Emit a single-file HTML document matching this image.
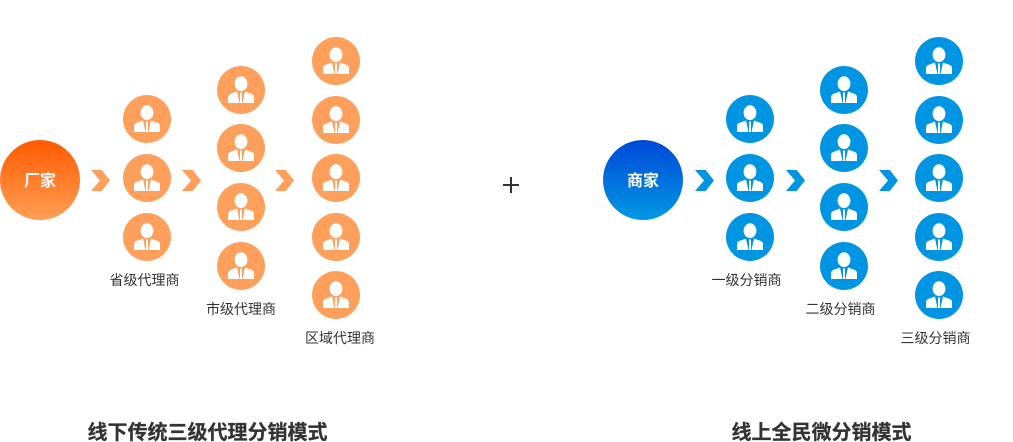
<!DOCTYPE html>
<html lang="zh">
<head>
<meta charset="utf-8">
<style>
html,body{margin:0;padding:0;background:#fff;width:1013px;height:442px;overflow:hidden}
svg{display:block}
text{font-family:"Liberation Sans","Noto Sans CJK SC",sans-serif}
.l{font-size:14px;fill:#333;text-anchor:middle}
.t{font-size:20px;font-weight:700;fill:#333;text-anchor:middle;stroke:#333;stroke-width:.25px}
.b{font-size:16px;font-weight:700;fill:#fff;text-anchor:middle}
</style>
</head>
<body>
<svg width="1013" height="442" viewBox="0 0 1013 442" xmlns="http://www.w3.org/2000/svg">
<defs>
<linearGradient id="go" x1="0" y1="0" x2="0" y2="1"><stop offset="0" stop-color="#ff5a00"/><stop offset="1" stop-color="#ff9f55"/></linearGradient>
<linearGradient id="gb" x1="0" y1="0" x2="0" y2="1"><stop offset="0" stop-color="#0049d8"/><stop offset="1" stop-color="#0098e4"/></linearGradient>
<g id="p">
<ellipse cx="0" cy="-6.300" rx="6.400" ry="7.400" fill="#fff"/>
<path d="M-13 13V7Q-13 4.500-9.500 3.500L-4 1.500L-1.500 13ZM13 13V7Q13 4.500 9.500 3.500L4 1.500L1.500 13Z" fill="#fff"/>
<path d="M-1 2.500H1L1 13H-1Z" fill="#fff"/>
</g>
<g id="po"><circle r="24" fill="#ff9f5c"/><use href="#p"/></g>
<g id="pb"><circle r="24" fill="#0095e2"/><use href="#p"/></g>
<path id="a" d="M0 0H10.700L19 10.500L10.700 21H0L9 10.500Z"/>
</defs>

<circle cx="40" cy="180" r="40" fill="url(#go)"/>
<text class="b" x="40" y="186">厂家</text>
<use href="#a" x="91" y="170" fill="#ff9f5c"/>
<use href="#a" x="182" y="170" fill="#ff9f5c"/>
<use href="#a" x="275" y="170" fill="#ff9f5c"/>

<use href="#po" x="147" y="119"/>
<use href="#po" x="147" y="178"/>
<use href="#po" x="147" y="237"/>
<use href="#po" x="241" y="90"/>
<use href="#po" x="241" y="148"/>
<use href="#po" x="241" y="207"/>
<use href="#po" x="241" y="266"/>
<use href="#po" x="336" y="61"/>
<use href="#po" x="336" y="120"/>
<use href="#po" x="336" y="178"/>
<use href="#po" x="336" y="237"/>
<use href="#po" x="336" y="295"/>

<text class="l" x="144.500" y="285">省级代理商</text>
<text class="l" x="241" y="314">市级代理商</text>
<text class="l" x="340" y="343">区域代理商</text>
<text class="t" x="207.500" y="439">线下传统三级代理分销模式</text>

<rect x="503" y="184" width="16" height="2" fill="#333"/>
<rect x="510" y="177" width="2" height="16" fill="#333"/>

<circle cx="643" cy="180" r="40" fill="url(#gb)"/>
<text class="b" x="643" y="186">商家</text>
<use href="#a" x="695" y="170" fill="#0095e2"/>
<use href="#a" x="786" y="170" fill="#0095e2"/>
<use href="#a" x="879" y="170" fill="#0095e2"/>

<use href="#pb" x="750" y="119"/>
<use href="#pb" x="750" y="178"/>
<use href="#pb" x="750" y="237"/>
<use href="#pb" x="844" y="90"/>
<use href="#pb" x="844" y="148"/>
<use href="#pb" x="844" y="207"/>
<use href="#pb" x="844" y="266"/>
<use href="#pb" x="939" y="61"/>
<use href="#pb" x="939" y="120"/>
<use href="#pb" x="939" y="178"/>
<use href="#pb" x="939" y="237"/>
<use href="#pb" x="939" y="295"/>

<text class="l" x="746.500" y="285">一级分销商</text>
<text class="l" x="840.500" y="314">二级分销商</text>
<text class="l" x="935.500" y="343">三级分销商</text>
<text class="t" x="821.500" y="439">线上全民微分销模式</text>
</svg>
</body>
</html>
